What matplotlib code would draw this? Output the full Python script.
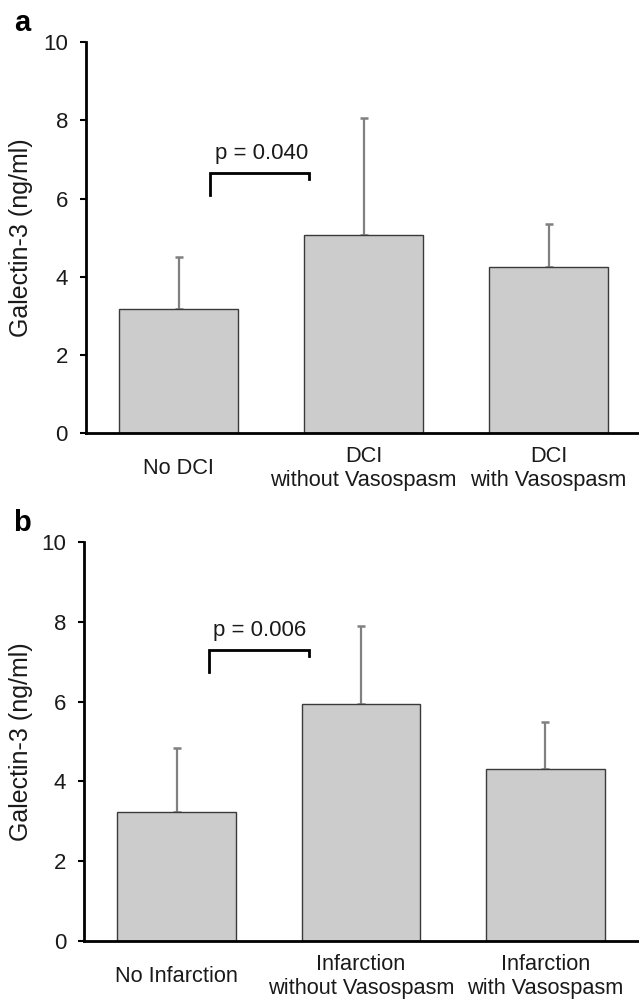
import matplotlib
matplotlib.use("Agg")
import matplotlib.pyplot as plt

plt.rcParams['font.family'] = ['Liberation Sans', 'DejaVu Sans']

# ---- data ----
cats_a = ["No DCI", "DCI\nwithout Vasospasm", "DCI\nwith Vasospasm"]
means_a = [3.18, 5.07, 4.26]
upper_a = [4.52, 8.06, 5.36]   # top of error bar
p_a = "p = 0.040"

cats_b = ["No Infarction", "Infarction\nwithout Vasospasm", "Infarction\nwith Vasospasm"]
means_b = [3.24, 5.94, 4.32]
upper_b = [4.83, 7.90, 5.50]
p_b = "p = 0.006"

yticks = [0, 2, 4, 6, 8, 10]

W, H = 639, 1002
fig = plt.figure(figsize=(W / 100, H / 100), dpi=100)


def px_axes(left, right, top, bottom):
    return fig.add_axes([left / W, 1 - bottom / H, (right - left) / W, (bottom - top) / H])


def draw(ax, cats, means, upper, ptxt, br_x, br_y, txt_y, txt_x, ylab_x):
    x = list(range(len(cats)))
    err = [u - m for u, m in zip(upper, means)]
    ax.bar(x, means, width=0.645, color="#cccccc", edgecolor="#3a3a3a", linewidth=1.0, zorder=2)
    ax.errorbar(x, means, yerr=[[0] * len(err), err], fmt="none", ecolor="#808080",
                elinewidth=1.6, capsize=2.6, capthick=1.8, zorder=1)
    ax.set_xlim(-0.5, 2.5)
    ax.set_ylim(0, 10)
    ax.set_yticks(yticks)
    ax.set_yticklabels([str(t) for t in yticks])
    ax.set_xticks(x)
    ax.set_xticklabels(cats, fontsize=15.7, linespacing=1.2)
    for lab in ax.get_xticklabels():
        lab.set_va("center")
        lab.set_color("#1a1a1a")
    ax.tick_params(axis="x", length=0, pad=25.5)
    ax.tick_params(axis="y", direction="out", length=4, width=1.5, pad=9,
                   labelsize=16, labelcolor="#1a1a1a")
    for s in ["top", "right"]:
        ax.spines[s].set_visible(False)
    for s in ["left", "bottom"]:
        ax.spines[s].set_linewidth(2)
        ax.spines[s].set_color("black")
    ax.set_ylabel("Galectin-3 (ng/ml)", fontsize=18, color="#1a1a1a")
    ax.yaxis.set_label_coords(ylab_x, 0.5)
    # bracket
    ax.plot([br_x[0], br_x[0], br_x[1], br_x[1]],
            [br_y[0], br_y[1], br_y[1], br_y[2]], color="black", lw=2.0,
            solid_joinstyle="miter", zorder=3)
    ax.text(txt_x, txt_y, ptxt, ha="center", va="center", fontsize=16, color="#1a1a1a")


ax_a = px_axes(86, 641, 42.3, 433.3)
draw(ax_a, cats_a, means_a, upper_a, p_a, (0.168, 0.708), (6.09, 6.67, 6.50), 7.16, 0.448, -0.0955)

ax_b = px_axes(84.3, 637.7, 542, 941)
draw(ax_b, cats_b, means_b, upper_b, p_b, (0.175, 0.719), (6.75, 7.29, 7.14), 7.78, 0.45, -0.0927)

fig.text(22 / W, 1 - 23 / H, "a", fontsize=21, fontweight="bold", ha="center", va="center")
fig.text(22 / W, 1 - 523 / H, "b", fontsize=21, fontweight="bold", ha="center", va="center")

fig.savefig("out.png", dpi=100)
